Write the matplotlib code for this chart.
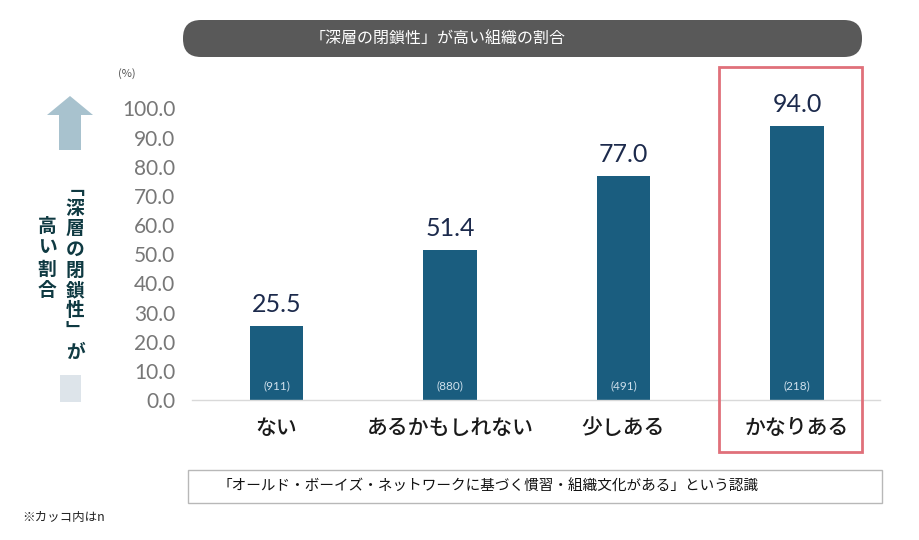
import matplotlib
matplotlib.use('Agg')
import matplotlib.pyplot as plt
from matplotlib.patches import FancyBboxPatch, Rectangle, Polygon

plt.rcParams['font.family'] = ['Noto Sans CJK JP', 'DejaVu Sans']

# data
categories = ['ない', 'あるかもしれない', '少しある', 'かなりある']
values = [25.5, 51.4, 77.0, 94.0]
counts = [911, 880, 491, 218]
yticks = [0, 10, 20, 30, 40, 50, 60, 70, 80, 90, 100]

title = '「深層の閉鎖性」が高い組織の割合'
xlabel = '「オールド・ボーイズ・ネットワークに基づく慣習・組織文化がある」という認識'
ylabel_col1 = '﹁深層の閉鎖性﹂が'
ylabel_col2 = '高い割合'
note = '※カッコ内はn'

bar_color = '#1a5d7f'
W, H = 920, 540

fig = plt.figure(figsize=(W / 100, H / 100), dpi=100)

# main bar axes (pixel layout converted to figure fraction)
ax = fig.add_axes([192 / W, 1 - 400 / H, (880 - 192) / W, (400 - 108.5) / H])
x = list(range(len(categories)))
ax.bar(x, values, width=0.31, color=bar_color, zorder=2)
ax.set_xlim(-0.487, 3.478)
ax.set_ylim(0, 100)
ax.set_yticks(yticks)
ax.set_yticklabels(['%.1f' % t for t in yticks], family='Lato', fontsize=15, color='#777777')
ax.set_xticks(x)
ax.set_xticklabels(categories, fontsize=15, color='#1a1a1a', fontweight='medium')
ax.tick_params(axis='y', length=0, pad=12)
ax.tick_params(axis='x', length=0, pad=12)
for s in ['top', 'right', 'left']:
    ax.spines[s].set_visible(False)
ax.spines['bottom'].set_color('#d9d9d9')
ax.spines['bottom'].set_linewidth(1)

for xi, v, n in zip(x, values, counts):
    ax.annotate('%.1f' % v, (xi, v), xytext=(0, 7), textcoords='offset points',
                ha='center', va='bottom', fontsize=18, family='Lato',
                color='#1c2a4c', clip_on=False)
    ax.text(xi, 5, '(%d)' % n, ha='center', va='center', fontsize=8.5,
            family='Lato', color='#cfe0ec', zorder=3)

# overlay in pixel coordinates for decorations
ov = fig.add_axes([0, 0, 1, 1], facecolor='none')
ov.set_xlim(0, W)
ov.set_ylim(H, 0)
ov.axis('off')

# title pill
ov.add_patch(FancyBboxPatch((183, 20), 862 - 183, 37,
                            boxstyle='round,pad=0,rounding_size=18',
                            fc='#595959', ec='none'))
ov.text(438, 39, title, ha='center', va='center', fontsize=11.5, color='white')

# red highlight box
ov.add_patch(Rectangle((719, 67), 862 - 719, 452 - 67, fill=False,
                       ec='#e0707a', lw=2))

# bottom label box
ov.add_patch(Rectangle((188, 470), 882 - 188, 33, fill=False, ec='#b8b8b8', lw=1))
ov.text(218, 487, xlabel, ha='left', va='center', fontsize=10.5, color='#111111')

ov.text(22, 517, note, ha='left', va='center', fontsize=9, color='#222222')
ov.text(127, 74, '(%)', ha='center', va='center', fontsize=8, color='#555555')

# left arrow and square
ov.add_patch(Polygon([(70, 96), (93, 115), (81, 115), (81, 150), (59, 150),
                      (59, 115), (47, 115)], closed=True, fc='#a8c2ce', ec='none'))
ov.add_patch(Rectangle((60, 375), 21, 27, fc='#dde4ea', ec='none'))

# vertical y label text
for i, ch in enumerate(ylabel_col1):
    ov.text(75, 188 + i * 20.5, ch, ha='center', va='center', fontsize=13.5,
            fontweight='bold', color='#0f3a42')
for i, ch in enumerate(ylabel_col2):
    ov.text(47, 226 + i * 21.5, ch, ha='center', va='center', fontsize=13.5,
            fontweight='bold', color='#0f3a42')

fig.savefig('out.png', dpi=100)
